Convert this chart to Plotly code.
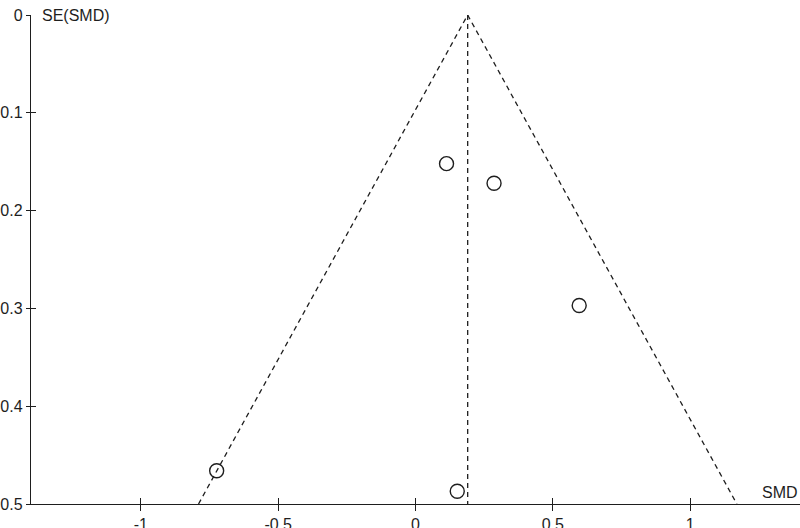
import plotly.graph_objects as go

# study estimates
smd = [0.113, 0.286, 0.596, -0.724, 0.152]
se = [0.152, 0.172, 0.297, 0.466, 0.487]

pooled = 0.19
se_max = 0.5

x_ticks = [-1, -0.5, 0, 0.5, 1]
x_tick_labels = ["-1", "-0.5", "0", "0.5", "1"]
y_ticks = [0, 0.1, 0.2, 0.3, 0.4, 0.5]
y_tick_labels = ["0", "0.1", "0.2", "0.3", "0.4", "0.5"]

ink = "#1e1e1e"
font = dict(family="Liberation Sans, Arial, sans-serif", size=16, color=ink)
dash = dict(color=ink, width=1.3, dash="5px,4px")

fig = go.Figure()

# pseudo 95% confidence limits
fig.add_trace(go.Scatter(
    x=[pooled - 1.96 * se_max, pooled, pooled + 1.96 * se_max],
    y=[se_max, 0, se_max],
    mode="lines", line=dash, hoverinfo="skip"))

# pooled estimate
fig.add_trace(go.Scatter(
    x=[pooled, pooled], y=[0, se_max],
    mode="lines", line=dash, hoverinfo="skip"))

fig.add_trace(go.Scatter(
    x=smd, y=se, mode="markers",
    marker=dict(symbol="circle-open", size=14, color=ink, line=dict(width=1.4))))

axis_common = dict(showgrid=False, zeroline=False, tickwidth=1.3,
                   tickcolor=ink, tickfont=font, automargin=False)

fig.update_layout(
    width=800, height=528,
    margin=dict(l=31, r=0, t=15, b=24),
    paper_bgcolor="white", plot_bgcolor="white",
    showlegend=False,
    xaxis=dict(range=[-1.4, 1.4], tickvals=x_ticks, ticktext=x_tick_labels,
               ticks="outside", ticklen=6, showline=True, linecolor=ink,
               linewidth=1.4, **axis_common),
    xaxis2=dict(range=[-1.4, 1.4], tickvals=x_ticks, overlaying="x",
                side="bottom", ticks="inside", ticklen=6,
                showticklabels=False, showline=False, **axis_common),
    yaxis=dict(range=[0.5, 0], tickvals=y_ticks, ticktext=y_tick_labels,
               ticks="outside", ticklen=4, showline=True, linecolor=ink,
               linewidth=1.4, **axis_common),
    yaxis2=dict(range=[0.5, 0], tickvals=y_ticks, overlaying="y",
                side="left", ticks="inside", ticklen=5,
                showticklabels=False, showline=False, **axis_common),
    annotations=[
        dict(text="SE(SMD)", xref="paper", yref="paper", x=0.012, y=1.0,
             xanchor="left", yanchor="middle", showarrow=False, font=font),
        dict(text="SMD", xref="paper", yref="paper", x=1.0, y=0.0,
             xanchor="right", yanchor="bottom", yshift=1, showarrow=False,
             font=font),
    ],
)

# invisible trace so the second axes are drawn
fig.add_trace(go.Scatter(x=[0], y=[0], xaxis="x2", yaxis="y2", mode="markers",
                         marker=dict(opacity=0), hoverinfo="skip"))

fig.write_html("out.html", config={"displayModeBar": False},
               post_script="document.body.style.margin = '0';")
